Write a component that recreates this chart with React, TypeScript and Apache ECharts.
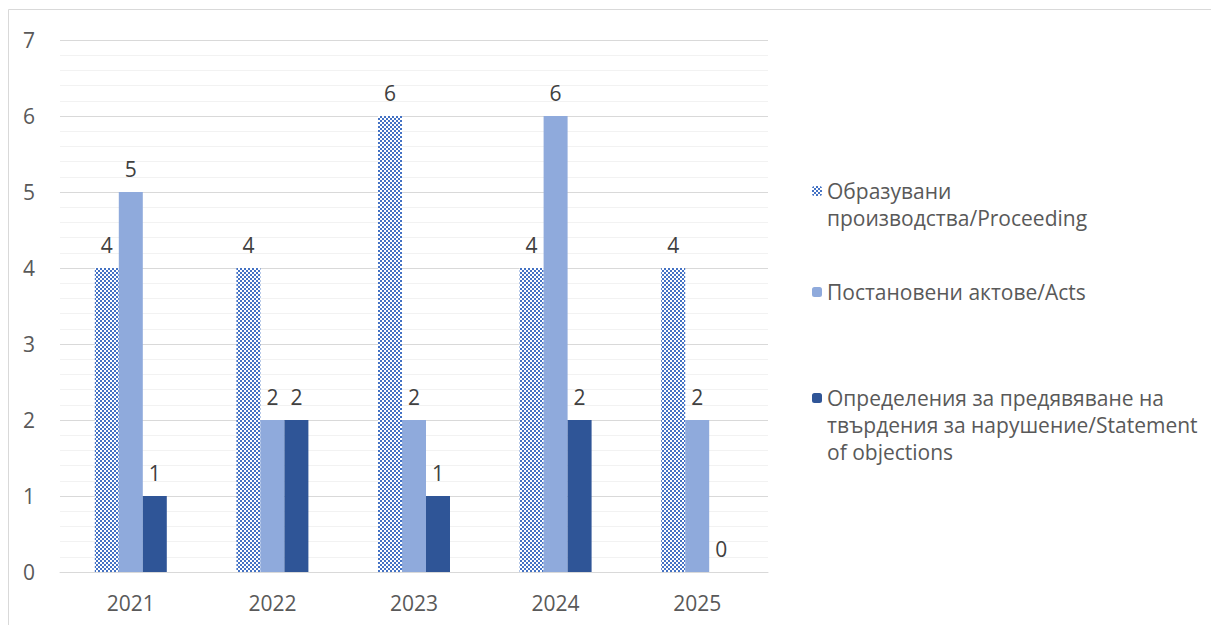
import React, { useEffect, useRef } from "react";
import * as echarts from "echarts";

const categories = ["2021", "2022", "2023", "2024", "2025"];
const seriesNames = [
  "Образувани производства/Proceeding",
  "Постановени актове/Acts",
  "Определения за предявяване на твърдения за нарушение/Statement of objections",
];
const legendLines = [
  ["Образувани", "производства/Proceeding"],
  ["Постановени актове/Acts"],
  ["Определения за предявяване на", "твърдения за нарушение/Statement", "of objections"],
];
const proceedings = [4, 4, 6, 4, 4];
const acts = [5, 2, 2, 6, 2];
const objections = [1, 2, 1, 2, 0];
const yTicks = [0, 1, 2, 3, 4, 5, 6, 7];

const FONT = "'Open Sans', 'Noto Sans', sans-serif";
const TEXT = "#595959";
const FS = 21;

function makePattern() {
  const c = document.createElement("canvas");
  c.width = 4;
  c.height = 4;
  const ctx = c.getContext("2d")!;
  ctx.fillStyle = "#ffffff";
  ctx.fillRect(0, 0, 4, 4);
  ctx.fillStyle = "#4472C4";
  ctx.fillRect(0, 0, 2, 2);
  ctx.fillRect(2, 2, 2, 2);
  return { image: c, repeat: "repeat", imageWidth: 4, imageHeight: 4 } as any;
}

export default function App() {
  const ref = useRef<HTMLDivElement>(null);
  useEffect(() => {
    const chart = echarts.init(ref.current!, undefined, { renderer: "svg" });
    const pattern = makePattern();
    const colors = [pattern, "#8FAADC", "#2F5597"];
    const values = [proceedings, acts, objections];
    const LH = 27;
    const iconCenters = [191, 292, 398];
    const legends = seriesNames.map((name, i) => {
      const n = legendLines[i].length;
      const h = (2 * n - 1) * LH;
      const text = "\n".repeat(n - 1) + legendLines[i].join("\n");
      return {
        orient: "vertical",
        left: 812,
        top: iconCenters[i] - h / 2,
        padding: 0,
        itemWidth: 10,
        itemHeight: 10,
        itemGap: 0,
        data: [name],
        formatter: () => text,
        textStyle: {
          fontFamily: FONT,
          fontSize: FS,
          lineHeight: LH,
          color: TEXT,
        },
        selectedMode: false,
      };
    });
    chart.setOption({
      animation: false,
      backgroundColor: "#ffffff",
      textStyle: { fontFamily: FONT },
      graphic: [
        {
          type: "rect",
          shape: { x: 8.5, y: 9.5, width: 1400, height: 800 },
          style: { fill: "none", stroke: "#d9d9d9", lineWidth: 1 },
          silent: true,
          z: -10,
        },
      ],
      legend: legends,
      grid: { left: 60, right: 443, top: 40, bottom: 53, containLabel: false },
      xAxis: {
        type: "category",
        data: categories,
        axisLine: { lineStyle: { color: "#d9d9d9", width: 1 } },
        axisTick: { show: false },
        axisLabel: { fontFamily: FONT, fontSize: FS, color: TEXT, margin: 20 },
      },
      yAxis: {
        type: "value",
        min: yTicks[0],
        max: yTicks[yTicks.length - 1],
        interval: 1,
        axisLine: { show: false },
        axisTick: { show: false },
        axisLabel: { fontFamily: FONT, fontSize: FS, color: TEXT, margin: 25 },
        splitLine: { lineStyle: { color: "#d9d9d9", width: 1 } },
        minorTick: { show: false, splitNumber: 5 },
        minorSplitLine: { show: true, lineStyle: { color: "#f2f2f2", width: 1 } },
      },
      series: seriesNames.map((name, i) => ({
        name,
        type: "bar",
        data: values[i],
        barWidth: 24,
        barGap: "0%",
        itemStyle: { color: colors[i] },
        label: {
          show: true,
          position: "top",
          distance: 13,
          fontFamily: FONT,
          fontSize: FS,
          color: "#404040",
        },
      })),
    });
    return () => chart.dispose();
  }, []);
  return (
    <div
      ref={ref}
      style={{ position: "fixed", left: 0, top: 0, width: 1211, height: 625, background: "#fff" }}
    />
  );
}
